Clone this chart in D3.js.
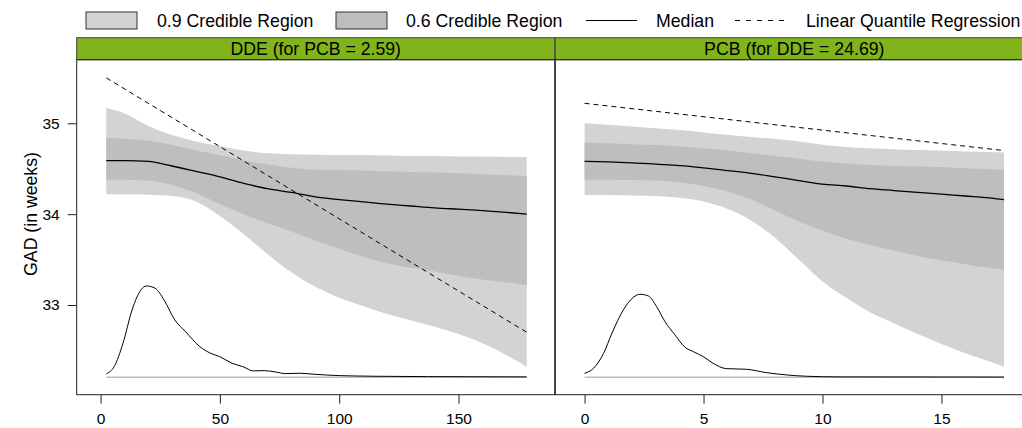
<!DOCTYPE html>
<html>
<head>
<meta charset="utf-8">
<script src="https://cdn.jsdelivr.net/npm/d3@7"></script>
<style>
  body { margin: 0; background: #fff; }
  svg text { font-family: "Liberation Sans", Arial, sans-serif; fill: #000; }
</style>
</head>
<body>
<div id="chart"></div>
<script>
/* panel titles */
var panelTitles = ["DDE (for PCB = 2.59)", "PCB (for DDE = 24.69)"]
var legendLabels = ["0.9 Credible Region", "0.6 Credible Region", "Median", "Linear Quantile Regression"]

/* DDE panel: credible bands, median */
var ddeX     = [2.4, 10, 20, 30, 40, 50, 60, 70, 80, 90, 100, 110, 120, 130, 140, 150, 160, 170, 178.6]
var ddeHi90  = [35.17, 35.11, 34.97, 34.87, 34.80, 34.75, 34.70, 34.67, 34.66, 34.655, 34.65, 34.65, 34.645, 34.64, 34.64, 34.635, 34.635, 34.63, 34.63]
var ddeHi60  = [34.84, 34.83, 34.81, 34.76, 34.70, 34.65, 34.59, 34.55, 34.51, 34.49, 34.485, 34.48, 34.47, 34.465, 34.46, 34.45, 34.44, 34.43, 34.42]
var ddeMed   = [34.59, 34.59, 34.58, 34.53, 34.47, 34.41, 34.34, 34.28, 34.24, 34.19, 34.16, 34.135, 34.11, 34.09, 34.07, 34.055, 34.04, 34.02, 34.00]
var ddeLo60  = [34.38, 34.38, 34.37, 34.32, 34.23, 34.11, 34.00, 33.90, 33.81, 33.71, 33.62, 33.53, 33.46, 33.41, 33.37, 33.32, 33.28, 33.25, 33.22]
var ddeLo90  = [34.22, 34.22, 34.215, 34.20, 34.14, 33.98, 33.78, 33.56, 33.36, 33.20, 33.08, 32.99, 32.90, 32.83, 32.76, 32.68, 32.58, 32.45, 32.32]
var ddeLqrX  = [2.4, 178.6]
var ddeLqrY  = [35.50, 32.70]
/* DDE density (height above baseline) */
var ddeDensX = [2.4, 5.7, 9.4, 13.2, 16.9, 19.2, 22.9, 26.6, 31.1, 35.6, 41.6, 46.1, 49.9, 55.1, 59.6, 64.1, 68.6, 73.1, 77.5, 83.5, 89.5, 100, 115, 137.4, 178.6]
var ddeDens  = [0.037, 0.117, 0.374, 0.741, 0.961, 1.005, 0.979, 0.851, 0.631, 0.502, 0.337, 0.264, 0.227, 0.154, 0.117, 0.070, 0.073, 0.059, 0.040, 0.044, 0.033, 0.018, 0.011, 0.007, 0.004]

/* PCB panel */
var pcbX     = [0, 1, 2, 3, 4, 5, 6, 7, 8, 9, 10, 11, 12, 13, 14, 15, 16, 17, 17.63]
var pcbHi90  = [35.00, 34.985, 34.965, 34.945, 34.925, 34.90, 34.875, 34.85, 34.83, 34.80, 34.765, 34.74, 34.725, 34.715, 34.705, 34.70, 34.69, 34.685, 34.68]
var pcbHi60  = [34.79, 34.78, 34.77, 34.76, 34.745, 34.725, 34.70, 34.67, 34.64, 34.61, 34.58, 34.56, 34.54, 34.53, 34.525, 34.52, 34.505, 34.495, 34.49]
var pcbMed   = [34.58, 34.575, 34.565, 34.55, 34.535, 34.51, 34.48, 34.45, 34.41, 34.37, 34.33, 34.31, 34.28, 34.26, 34.24, 34.22, 34.20, 34.18, 34.16]
var pcbLo60  = [34.38, 34.38, 34.375, 34.37, 34.35, 34.31, 34.25, 34.16, 34.04, 33.92, 33.82, 33.73, 33.66, 33.60, 33.54, 33.49, 33.45, 33.41, 33.39]
var pcbLo90  = [34.21, 34.21, 34.205, 34.20, 34.18, 34.14, 34.06, 33.93, 33.74, 33.50, 33.26, 33.08, 32.92, 32.80, 32.68, 32.57, 32.47, 32.38, 32.32]
var pcbLqrX  = [0, 17.63]
var pcbLqrY  = [35.22, 34.70]
var pcbDensX = [0, 0.38, 0.8, 1.15, 1.63, 2.05, 2.33, 2.68, 3.03, 3.38, 3.8, 4.22, 4.57, 4.99, 5.4, 5.96, 6.8, 7.64, 8.48, 9.32, 10.7, 17.63]
var pcbDens  = [0.044, 0.099, 0.264, 0.484, 0.741, 0.880, 0.913, 0.895, 0.777, 0.612, 0.466, 0.330, 0.282, 0.227, 0.154, 0.095, 0.088, 0.051, 0.026, 0.011, 0.004, 0.002]

/* axis ticks */
var yTicks = [33, 34, 35]
var ddeTicks = [0, 50, 100, 150]
var pcbTicks = [0, 5, 10, 15]
var densBase = 32.205

/* layout */
var layout = {
  width: 1022, height: 428,
  stripTop: 37.7, stripH: 22,
  panelTop: 59.7, panelBottom: 394.7,
  panelW: 478,
  panelX: [76.7, 555.3],
  tickLen: 9,
  textSize: "17.7px",
  tickSize: "15.5px"
}
var col90 = "#d3d3d3", col60 = "#bebebe"

var panels = [
  { title: panelTitles[0], xDom: [-10, 190.3], ticks: ddeTicks, x: ddeX, hi90: ddeHi90, hi60: ddeHi60, med: ddeMed, lo60: ddeLo60, lo90: ddeLo90, lqrX: ddeLqrX, lqrY: ddeLqrY, dX: ddeDensX, d: ddeDens },
  { title: panelTitles[1], xDom: [-1.23, 18.86], ticks: pcbTicks, x: pcbX, hi90: pcbHi90, hi60: pcbHi60, med: pcbMed, lo60: pcbLo60, lo90: pcbLo90, lqrX: pcbLqrX, lqrY: pcbLqrY, dX: pcbDensX, d: pcbDens }
]

var svg = d3.select("#chart").append("svg")
  .attr("width", layout.width)
  .attr("height", layout.height)

var y = d3.scaleLinear().domain([32.013, 35.70]).range([layout.panelBottom, layout.panelTop])

panels.forEach(function(p, pi) {
  var x0 = layout.panelX[pi]
  var x = d3.scaleLinear().domain(p.xDom).range([x0, x0 + layout.panelW])
  var idx = d3.range(p.x.length)
  var g = svg.append("g")

  var band = function(lo, hi) {
    return d3.area().x(function(i) { return x(p.x[i]) })
      .y0(function(i) { return y(lo[i]) })
      .y1(function(i) { return y(hi[i]) })
      .curve(d3.curveMonotoneX)
  }
  g.append("path").attr("d", band(p.lo90, p.hi90)(idx)).attr("fill", col90)
  g.append("path").attr("d", band(p.lo60, p.hi60)(idx)).attr("fill", col60)

  /* density baseline and curve */
  g.append("line")
    .attr("x1", x(p.dX[0])).attr("x2", x(p.dX[p.dX.length - 1]))
    .attr("y1", y(densBase)).attr("y2", y(densBase))
    .attr("stroke", "#bdbdbd").attr("stroke-width", 1.5)
  var dens = d3.line().x(function(i) { return x(p.dX[i]) })
    .y(function(i) { return y(densBase + p.d[i]) })
    .curve(d3.curveMonotoneX)
  g.append("path").attr("d", dens(d3.range(p.dX.length)))
    .attr("fill", "none").attr("stroke", "#000").attr("stroke-width", 1)

  /* median */
  var med = d3.line().x(function(i) { return x(p.x[i]) })
    .y(function(i) { return y(p.med[i]) })
    .curve(d3.curveMonotoneX)
  g.append("path").attr("d", med(idx))
    .attr("fill", "none").attr("stroke", "#000").attr("stroke-width", 1.3)

  /* linear quantile regression */
  g.append("line")
    .attr("x1", x(p.lqrX[0])).attr("x2", x(p.lqrX[1]))
    .attr("y1", y(p.lqrY[0])).attr("y2", y(p.lqrY[1]))
    .attr("stroke", "#000").attr("stroke-width", 1)
    .attr("stroke-dasharray", "5,4")

  /* strip */
  svg.append("rect")
    .attr("x", x0).attr("y", layout.stripTop)
    .attr("width", layout.panelW).attr("height", layout.stripH)
    .attr("fill", "#80b41a").attr("stroke", "#444").attr("stroke-width", 1)
  svg.append("text")
    .attr("x", x0 + layout.panelW / 2).attr("y", layout.stripTop + 17.3)
    .attr("text-anchor", "middle").style("font-size", layout.textSize)
    .text(p.title)

  /* panel box */
  svg.append("rect")
    .attr("x", x0).attr("y", layout.panelTop)
    .attr("width", layout.panelW).attr("height", layout.panelBottom - layout.panelTop)
    .attr("fill", "none").attr("stroke", "#222").attr("stroke-width", 1)

  /* x axis */
  var xa = svg.append("g")
    .attr("transform", "translate(0," + layout.panelBottom + ")")
    .call(d3.axisBottom(x).tickValues(p.ticks).tickSize(layout.tickLen).tickPadding(9).tickFormat(d3.format("d")))
  xa.select(".domain").remove()
  xa.selectAll("text").style("font-size", layout.tickSize).attr("fill", "#000")
  xa.selectAll("line").attr("stroke", "#222")
})

/* y axis */
var ya = svg.append("g")
  .attr("transform", "translate(" + layout.panelX[0] + ",0)")
  .call(d3.axisLeft(y).tickValues(yTicks).tickSize(layout.tickLen).tickPadding(8).tickFormat(d3.format("d")))
ya.select(".domain").remove()
ya.selectAll("text").style("font-size", layout.tickSize).attr("fill", "#000")
ya.selectAll("line").attr("stroke", "#222")

svg.append("text")
  .attr("transform", "translate(37,214) rotate(-90)")
  .attr("text-anchor", "middle").style("font-size", layout.textSize)
  .text("GAD (in weeks)")

/* legend */
var leg = svg.append("g")
var legY = 20.5
leg.append("rect").attr("x", 86).attr("y", 12).attr("width", 51).attr("height", 17)
  .attr("fill", col90).attr("stroke", "#333")
leg.append("text").attr("x", 157).attr("y", legY + 6.3).style("font-size", layout.textSize).text(legendLabels[0])
leg.append("rect").attr("x", 336).attr("y", 12).attr("width", 51).attr("height", 17)
  .attr("fill", col60).attr("stroke", "#333")
leg.append("text").attr("x", 406).attr("y", legY + 6.3).style("font-size", layout.textSize).text(legendLabels[1])
leg.append("line").attr("x1", 586).attr("x2", 637).attr("y1", legY).attr("y2", legY)
  .attr("stroke", "#000").attr("stroke-width", 1)
leg.append("text").attr("x", 656).attr("y", legY + 6.3).style("font-size", layout.textSize).text(legendLabels[2])
leg.append("line").attr("x1", 735).attr("x2", 786).attr("y1", legY).attr("y2", legY)
  .attr("stroke", "#000").attr("stroke-width", 1).attr("stroke-dasharray", "5,6")
leg.append("text").attr("x", 806).attr("y", legY + 6.3).style("font-size", layout.textSize).text(legendLabels[3])
</script>
</body>
</html>
